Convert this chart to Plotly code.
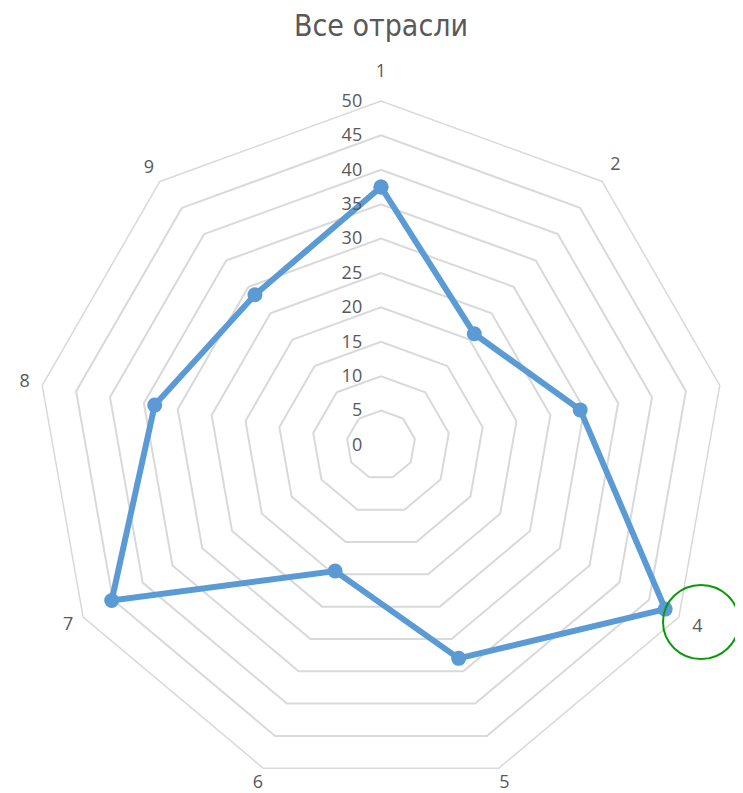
import plotly.graph_objects as go

# Все отрасли - lepestkovaya diagramma
categories = ["1", "2", "3", "4", "5", "6", "7", "8", "9"]
values = [37.5, 21.1, 29.4, 47.7, 33.0, 19.5, 45.2, 33.4, 28.5]
radial_ticks = [0, 5, 10, 15, 20, 25, 30, 35, 40, 45, 50]

# rayon (en unités de l'axe principal) où sont posées les étiquettes des catégories
label_r = [54.2, 53.0, 53.1, 53.1, 52.4, 52.3, 52.5, 52.6, 52.5]

# la page déborde un peu de la fenêtre 743x793 (marge du body), ce qui dépasse est coupé
W, H = 752, 812
OFF = 8  # marge du body de la page html
cx, cy, R = 381 - OFF, 445 - OFF, 344  # centre et rayon en pixels (depuis le haut)
RMAX = 50
R2 = 373  # polar2 superposé, plus grand, pour les étiquettes
RMAX2 = RMAX * R2 / R


def dom(rad):
    return dict(x=[(cx - rad) / W, (cx + rad) / W], y=[(H - cy - rad) / H, (H - cy + rad) / H])


fig = go.Figure()
fig.add_trace(go.Scatterpolar(
    r=values + values[:1], theta=categories + categories[:1],
    mode="lines+markers",
    line=dict(color="#5b9bd5", width=6),
    marker=dict(color="#5b9bd5", size=15),
    showlegend=False, hoverinfo="skip"))

# étiquettes des catégories
fig.add_trace(go.Scatterpolar(
    r=label_r, theta=categories, text=categories,
    mode="text", textposition="middle center",
    textfont=dict(family="Open Sans", size=18, color="#595959"),
    cliponaxis=False, showlegend=False, hoverinfo="skip", subplot="polar2"))

fig.update_layout(
    width=W, height=H,
    margin=dict(l=0, r=0, t=0, b=0),
    paper_bgcolor="white",
    font=dict(family="Open Sans", size=18, color="#595959"),
    title=dict(text="Все отрасли", x=cx / W, xanchor="center", y=1 - (25 - OFF) / H, yanchor="middle",
               font=dict(family="Liberation Sans Narrow, DejaVu Sans Condensed, Roboto, sans-serif",
                         size=30, color="#595959")),
    polar=dict(
        domain=dom(R),
        bgcolor="white",
        gridshape="linear",
        radialaxis=dict(range=[0, RMAX], tickvals=radial_ticks, angle=90, tickangle=90,
                        side="counterclockwise", showline=False,
                        gridcolor="#d9d9d9", gridwidth=1.5,
                        ticks="outside", ticklen=12, tickcolor="rgba(0,0,0,0)",
                        tickfont=dict(size=18, color="#595959")),
        angularaxis=dict(categoryarray=categories, categoryorder="array",
                         rotation=90, direction="clockwise",
                         showgrid=False, showline=True, linecolor="#d9d9d9", linewidth=1.5,
                         ticks="", showticklabels=False),
    ),
    polar2=dict(
        domain=dom(R2),
        bgcolor="rgba(0,0,0,0)",
        radialaxis=dict(range=[0, RMAX2], visible=False, showgrid=False),
        angularaxis=dict(categoryarray=categories, categoryorder="array",
                         rotation=90, direction="clockwise",
                         showgrid=False, showline=False, ticks="", showticklabels=False),
    ),
    shapes=[dict(type="circle", xref="paper", yref="paper",
                 x0=(701 - OFF - 38) / W, x1=(701 - OFF + 38) / W,
                 y0=(H - (622 - OFF) - 37) / H, y1=(H - (622 - OFF) + 37) / H,
                 line=dict(color="#0a9a0a", width=2))],
)

fig.write_html("out.html")
